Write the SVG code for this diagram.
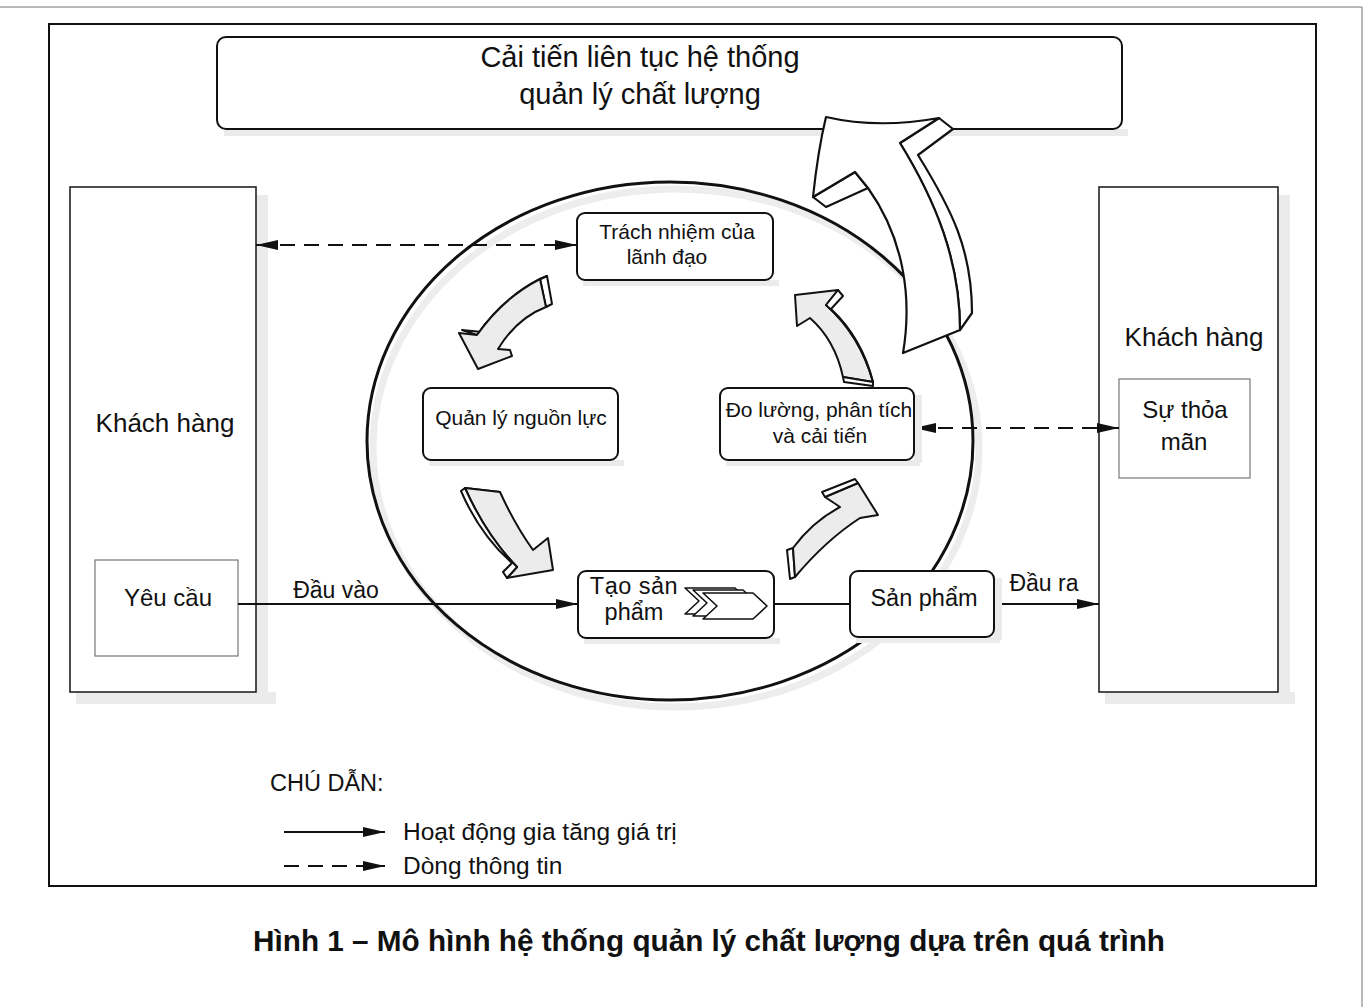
<svg xmlns="http://www.w3.org/2000/svg" width="1367" height="1007" viewBox="0 0 1367 1007">
<style>
text{font-family:"Liberation Sans",Arial,sans-serif;fill:#111}
.box{fill:#fff;stroke:#111;stroke-width:2}
.obox{fill:#fff;stroke:#222;stroke-width:1.6}
.ibox{fill:#fff;stroke:#777;stroke-width:1.2}
.sh{fill:#ebebeb}
.ln{stroke:#111;stroke-width:1.8;fill:none}
.dash{stroke:#111;stroke-width:2;fill:none;stroke-dasharray:15 9}
.arr{fill:#ececec;stroke:#111;stroke-width:2;stroke-linejoin:round}
.arrb{fill:#fff;stroke:#111;stroke-width:2;stroke-linejoin:round}
.big{fill:#fff;stroke:#111;stroke-width:2.2;stroke-linejoin:round}
.chev{fill:#fff;stroke:#111;stroke-width:1.6;stroke-linejoin:round}
</style>
<defs>
<marker id="ah" markerUnits="userSpaceOnUse" markerWidth="24" markerHeight="12" refX="22" refY="5" orient="auto-start-reverse" viewBox="0 0 24 12">
<path d="M0,0 L22,5 L0,10 Z" fill="#111"/>
</marker>
</defs>
<rect width="1367" height="1007" fill="#fff"/>
<g id="page-border">
<line x1="0" y1="7" x2="1362" y2="7" stroke="#777" stroke-width="1"/>
<line x1="1362" y1="7" x2="1362" y2="1007" stroke="#777" stroke-width="1"/>
</g>
<rect id="frame" x="49" y="24" width="1267" height="862" fill="none" stroke="#111" stroke-width="2"/>

<g id="top-box">
<rect class="sh" x="224" y="129" width="904" height="7"/>
<rect class="box" x="217" y="37" width="905" height="92" rx="9"/>
<text x="640" y="67" font-size="29" text-anchor="middle">Cải tiến liên tục hệ thống</text>
<text x="640" y="104" font-size="29" text-anchor="middle">quản lý chất lượng</text>
</g>

<g id="customer-left">
<rect class="sh" x="76" y="692" width="200" height="12"/>
<rect class="sh" x="256" y="195" width="12" height="500"/>
<rect class="obox" x="70" y="187" width="186" height="505"/>
<text x="165" y="432" font-size="26" text-anchor="middle">Khách hàng</text>
</g>
<g id="requirement">
<rect class="ibox" x="95" y="560" width="143" height="96"/>
<text x="168" y="606" font-size="24" text-anchor="middle">Yêu cầu</text>
</g>

<g id="customer-right">
<rect class="sh" x="1105" y="692" width="190" height="12"/>
<rect class="sh" x="1278" y="195" width="12" height="500"/>
<rect class="obox" x="1099" y="187" width="179" height="505"/>
<text x="1194" y="346" font-size="26" text-anchor="middle">Khách hàng</text>
</g>
<g id="satisfaction">
<rect class="ibox" x="1119" y="379" width="131" height="99"/>
<text x="1185" y="418" font-size="24" text-anchor="middle">Sự thỏa</text>
<text x="1184" y="450" font-size="24" text-anchor="middle">mãn</text>
</g>

<g id="process-ellipse">
<ellipse cx="676" cy="448" rx="303" ry="259" fill="none" stroke="#ededed" stroke-width="7"/>
<ellipse cx="670" cy="441" rx="303" ry="259" fill="none" stroke="#111" stroke-width="3"/>
</g>

<g id="connectors">
<line class="dash" x1="256" y1="245" x2="577" y2="245" marker-start="url(#ah)" marker-end="url(#ah)"/>
<line class="dash" x1="914" y1="428" x2="1119" y2="428" marker-start="url(#ah)" marker-end="url(#ah)"/>
<line class="ln" x1="238" y1="604" x2="578" y2="604" marker-end="url(#ah)"/>
<line class="ln" x1="774" y1="604" x2="850" y2="604"/>
<line class="ln" x1="994" y1="604" x2="1099" y2="604" marker-end="url(#ah)"/>
<text x="336" y="598" font-size="23" text-anchor="middle">Đầu vào</text>
<text x="1044" y="591" font-size="23" text-anchor="middle">Đầu ra</text>
</g>

<g id="management">
<rect class="sh" x="583" y="280" width="196" height="6"/>
<rect class="box" x="577" y="213" width="196" height="67" rx="8"/>
<text x="677" y="239" font-size="21" text-anchor="middle">Trách nhiệm của</text>
<text x="667" y="264" font-size="21" text-anchor="middle">lãnh đạo</text>
</g>
<g id="resource">
<rect class="sh" x="429" y="460" width="195" height="6"/>
<rect class="box" x="423" y="388" width="195" height="72" rx="8"/>
<text x="521" y="425" font-size="21" text-anchor="middle">Quản lý nguồn lực</text>
</g>
<g id="measurement">
<rect class="sh" x="726" y="460" width="194" height="6"/>
<rect class="sh" x="914" y="395" width="8" height="68"/>
<rect class="box" x="720" y="388" width="194" height="72" rx="8"/>
<text x="819" y="417" font-size="21" text-anchor="middle">Đo lường, phân tích</text>
<text x="820" y="443" font-size="21" text-anchor="middle">và cải tiến</text>
</g>
<g id="realization">
<rect class="sh" x="584" y="638" width="196" height="6"/>
<rect class="box" x="578" y="571" width="196" height="67" rx="8"/>
<text x="634" y="594" font-size="23.5" text-anchor="middle" letter-spacing="0.5">Tạo sản</text>
<text x="634" y="620" font-size="23.5" text-anchor="middle">phẩm</text>
<path class="chev" d="M685,588 L735,588 L749,601 L735,614 L685,614 L699,601 Z"/>
<path class="chev" d="M693,590 L743,590 L757,603 L743,616 L693,616 L707,603 Z"/>
<path class="chev" d="M703,593 L753,593 L767,606 L753,619 L703,619 L717,606 Z"/>
</g>
<g id="product">
<rect class="sh" x="856" y="637" width="144" height="6"/>
<rect class="sh" x="994" y="578" width="8" height="62"/>
<rect class="box" x="850" y="571" width="144" height="66" rx="8"/>
<text x="924" y="606" font-size="23.5" text-anchor="middle">Sản phẩm</text>
</g>

<g id="cycle-arrows">
<path class="arrb" d="M540,279 L547,276 L552,304 L546,307 Z"/>
<path class="arrb" d="M547,276 Q508,292 482,332 L462,330 L477,335 Q503,298 540,279 Z"/>
<path class="arr" d="M546,307 Q517,318 498,349 L510,350 L512,356 L478,369 L459,333 L477,335 Q503,298 540,279 Z"/>

<path class="arrb" d="M465,488 L500,492 L500,499 L465,496 Z"/>
<path class="arr" d="M465,488 L500,492 Q515,525 533,550 L548,538 L553,570 L507,578 L517,567 Q486,535 465,488 Z"/>
<path class="arrb" d="M465,488 Q486,535 517,567 L507,578 L503,572 L512,563 Q480,535 461,491 Z"/>

<path class="arrb" d="M787,550 L793,548 L795,577 L790,579 Z"/>
<path class="arr" d="M793,548 Q812,522 840,507 L825,497 L858,483 L878,515 L860,518 Q826,540 795,577 Z"/>
<path class="arrb" d="M825,497 L822,492 L855,479 L858,483 Z"/>

<path class="arr" d="M795,295 L838,290 L826,305 Q860,335 873,382 L843,377 Q835,340 810,318 L797,326 Z"/>
<path class="arrb" d="M838,290 L843,296 L831,309 Q862,338 873,382 Q860,335 826,305 Z"/>
<path class="arrb" d="M843,377 L873,382 L873,386 L844,382 Z"/>
</g>

<g id="improvement-arrow">
<path class="big" d="M939,118 L953,129 L918,155 C952,210 972,250 972,313 L960,330 C960,260 935,200 900,143 Z"/>
<path class="big" d="M855,172 L868,188 L826,207 L813,197 Z"/>
<path class="big" d="M826,117 Q878,129 939,118 L900,143 C935,200 960,260 960,330 L903,353 C912,300 905,240 868,188 L855,172 L813,197 Q818,150 826,117 Z"/>
</g>

<g id="legend">
<text x="270" y="791" font-size="23.5">CHÚ DẪN:</text>
<line class="ln" x1="284" y1="832" x2="385" y2="832" marker-end="url(#ah)"/>
<text x="403" y="840" font-size="24.5">Hoạt động gia tăng giá trị</text>
<line class="dash" x1="284" y1="866" x2="385" y2="866" stroke-dasharray="16 8" marker-end="url(#ah)"/>
<text x="403" y="874" font-size="24.5">Dòng thông tin</text>
</g>

<text id="caption" x="709" y="951" font-size="29.7" font-weight="bold" text-anchor="middle">Hình 1 – Mô hình hệ thống quản lý chất lượng dựa trên quá trình</text>
</svg>
